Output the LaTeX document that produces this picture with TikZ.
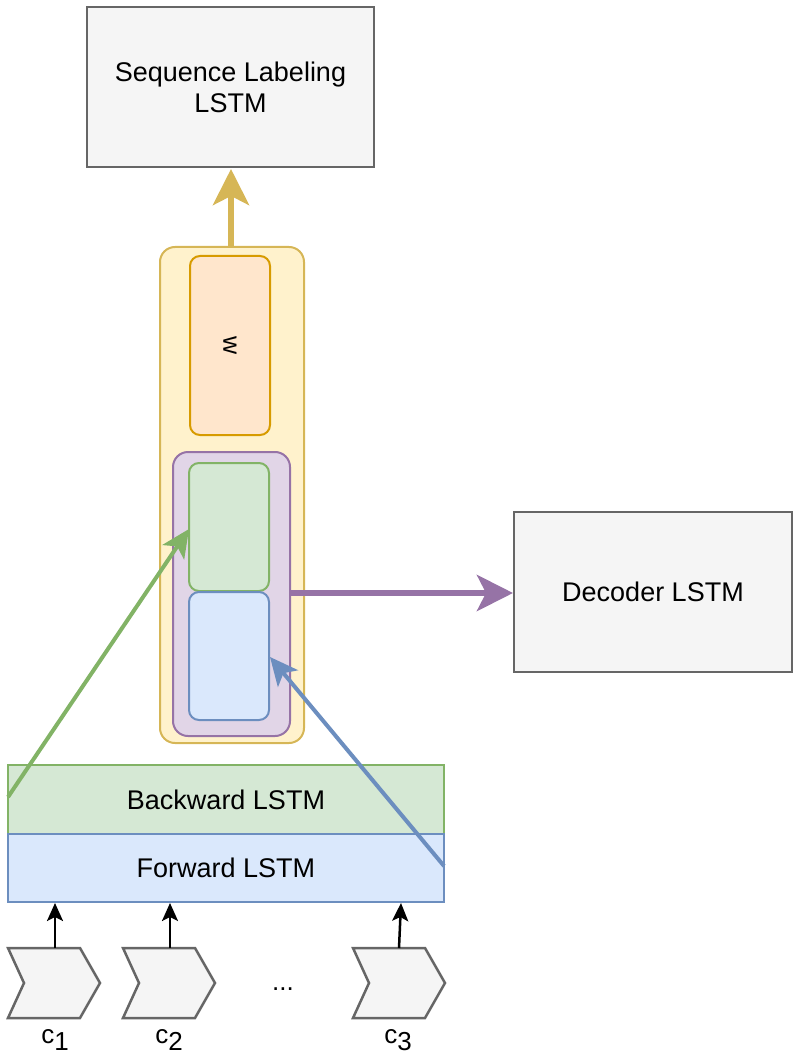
\documentclass[tikz,border=0pt]{standalone}
\usepackage{fontspec}
\setmainfont{Liberation Sans}
\usetikzlibrary{arrows.meta}
\definecolor{grayfill}{HTML}{F5F5F5}
\definecolor{graystroke}{HTML}{666666}
\definecolor{yfill}{HTML}{FFF2CC}
\definecolor{ystroke}{HTML}{D6B656}
\definecolor{ofill}{HTML}{FFE6CC}
\definecolor{ostroke}{HTML}{D79B00}
\definecolor{pfill}{HTML}{E1D5E7}
\definecolor{pstroke}{HTML}{9673A6}
\definecolor{gfill}{HTML}{D5E8D4}
\definecolor{gstroke}{HTML}{82B366}
\definecolor{bfill}{HTML}{DAE8FC}
\definecolor{bstroke}{HTML}{6C8EBF}
\tikzset{
  graybox/.style={draw=graystroke, fill=grayfill, line width=2.5pt, font=\fontsize{27}{31}\selectfont, align=center, inner sep=0pt},
  layerbox/.style={line width=2pt, font=\fontsize{27}{31}\selectfont, inner sep=0pt},
  chev/.style={draw=graystroke, fill=grayfill, line width=2.5pt, line join=miter},
  bigarrow/.style={line width=6pt, -{Stealth[length=36pt,width=36pt,inset=9pt]}},
  midarrow/.style={line width=4pt, -{Stealth[length=28pt,width=26pt,inset=7pt]}},
  smallarrow/.style={line width=2.5pt, black, -{Stealth[length=18pt,width=16pt,inset=4pt]}},
  lbl/.style={font=\fontsize{26}{30}\selectfont, inner sep=0pt}
}
\begin{document}
\begin{tikzpicture}[x=1pt,y=-1pt]
\useasboundingbox (0,0) rectangle (800,1056);
% Top box
\node[graybox, minimum width=287pt, minimum height=160pt] (seq) at (230.5,87) {Sequence Labeling\\LSTM};
% Yellow outer
\node[draw=ystroke, fill=yfill, line width=2pt, rounded corners=15pt, minimum width=144pt, minimum height=496pt, inner sep=0pt] (outer) at (232,495) {};
% Orange w
\node[draw=ostroke, fill=ofill, line width=2pt, rounded corners=10pt, minimum width=80pt, minimum height=179pt, inner sep=0pt] (wbox) at (230,345.5) {};
\node[font=\fontsize{25}{28}\selectfont, rotate=-90, inner sep=0pt] (wlab) at (wbox.center) {w};
% Purple
\node[draw=pstroke, fill=pfill, line width=2pt, rounded corners=15pt, minimum width=117pt, minimum height=284pt, inner sep=0pt] (purp) at (231.5,594) {};
% Green inner
\node[draw=gstroke, fill=gfill, line width=2pt, rounded corners=10pt, minimum width=80pt, minimum height=128pt, inner sep=0pt] (gin) at (229,527) {};
% Blue inner
\node[draw=bstroke, fill=bfill, line width=2pt, rounded corners=10pt, minimum width=80pt, minimum height=128pt, inner sep=0pt] (bin) at (229,656) {};
% Decoder
\node[graybox, minimum width=278pt, minimum height=160pt] (dec) at (653,592) {Decoder LSTM};
% Backward / Forward
\node[layerbox, draw=gstroke, fill=gfill, minimum width=436pt, minimum height=69pt] (bw) at (226,799.5) {Backward LSTM};
\node[layerbox, draw=bstroke, fill=bfill, minimum width=436pt, minimum height=68pt] (fw) at (226,868) {Forward LSTM};
% Chevrons
\foreach \n/\x in {1/8, 2/123, 3/353}{
  \draw[chev] (\x,948) -- (\x+72,948) -- (\x+92,983) -- (\x+72,1018) -- (\x,1018) -- (\x+16,983) -- cycle;
}
\coordinate (ch1) at (55,948);
\coordinate (ch2) at (170,948);
\coordinate (ch3) at (399,948);
\coordinate (in1) at (55,903);
\coordinate (in2) at (170,903);
\coordinate (in3) at (401,903);
\node[lbl] (c1) at (55,1040) {c\raisebox{-7pt}{1}};
\node[lbl] (c2) at (169,1040) {c\raisebox{-7pt}{2}};
\node[lbl] (c3) at (398,1040) {c\raisebox{-7pt}{3}};
\node[lbl] (dots) at (283,989) {...};
% Arrows
\draw[smallarrow] (ch1) -- (in1);
\draw[smallarrow] (ch2) -- (in2);
\draw[smallarrow] (ch3) -- (in3);
\coordinate (ytop) at (231,247);
\coordinate (ytip) at (231,169);
\draw[bigarrow, ystroke] (ytop) -- (ytip);
\coordinate (pstart) at (290,593);
\coordinate (pend) at (513,593);
\draw[bigarrow, pstroke] (pstart) -- (pend);
\coordinate (gstart) at (8,797);
\coordinate (gend) at (189,529);
\draw[midarrow, gstroke] (gstart) -- (gend);
\coordinate (bstart) at (444,866);
\coordinate (bend) at (270,657);
\draw[midarrow, bstroke] (bstart) -- (bend);
\end{tikzpicture}
\end{document}
